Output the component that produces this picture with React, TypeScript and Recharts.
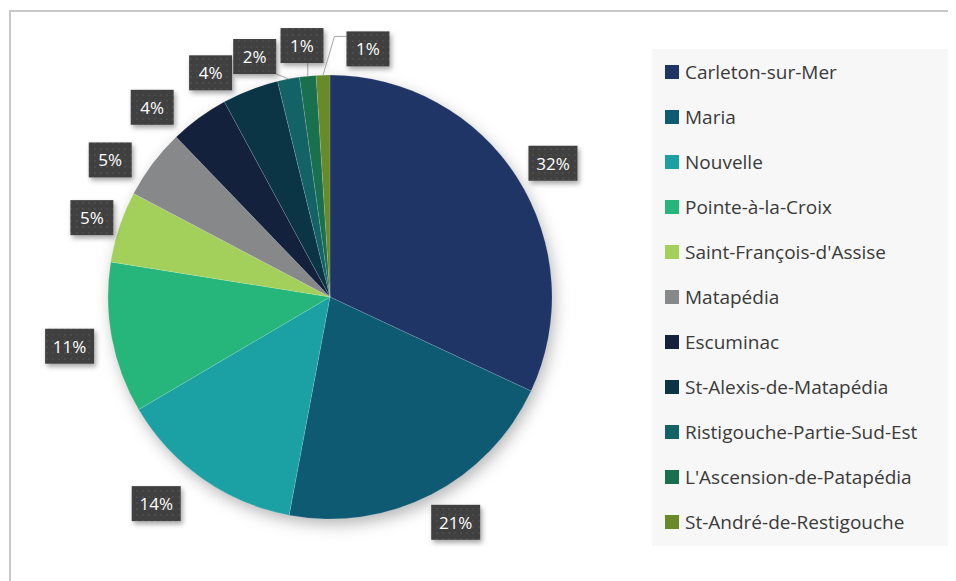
import { PieChart, Pie, Cell } from 'recharts';

const names = [
  'Carleton-sur-Mer',
  'Maria',
  'Nouvelle',
  'Pointe-à-la-Croix',
  "Saint-François-d'Assise",
  'Matapédia',
  'Escuminac',
  'St-Alexis-de-Matapédia',
  'Ristigouche-Partie-Sud-Est',
  "L'Ascension-de-Patapédia",
  'St-André-de-Restigouche',
];
const shares = [32.0, 21.0, 13.6, 11.0, 5.2, 5.1, 4.3, 4.1, 1.6, 1.2, 1.0];
const colors = [
  '#1F3566', '#0F5A73', '#1BA0A4', '#26B57B', '#A2D05A', '#878889',
  '#13213D', '#0B3445', '#136266', '#18704E', '#688A28',
];

const data = names.map((name, i) => ({ name, value: shares[i] }));
const total = shares.reduce((a, b) => a + b, 0);
const shadowData = [{ name: 'shadow', value: total }];

// label placement tweaks (angle in degrees, radius in px) to keep boxes apart
const labelNudge = [1.5, -2, 5, 0, 0, -5, -7, -7, -6.6, -0.6, 10.5];
const labelRadius = [260, 258, 270, 265, 251, 259, 260, 254, 252, 253, 251];
const withLeader = [8, 9, 10];

const FONT = '"Open Sans", Lato, sans-serif';

const renderLabel = (props: any) => {
  const { cx, cy, midAngle, outerRadius, percent, index } = props;
  const base = ((90 - midAngle) * Math.PI) / 180;
  const rad = ((90 - midAngle + labelNudge[index]) * Math.PI) / 180;
  const R = labelRadius[index];
  const lx = cx + R * Math.sin(rad);
  const ly = cy - R * Math.cos(rad);
  const text = `${Math.round(percent * 100)}%`;
  const w = text.length > 2 ? 49 : 43;
  const h = 35;
  const bx = lx - w / 2;
  const by = ly - h / 2;

  let leader = null;
  if (withLeader.includes(index)) {
    const sx = cx + outerRadius * Math.sin(base);
    const sy = cy - outerRadius * Math.cos(base);
    if (sx < bx) {
      leader = (
        <polyline
          points={`${sx},${sy} ${bx - 12},${by + 5} ${bx},${by + 5}`}
          fill="none"
          stroke="#A6A6A6"
          strokeWidth={1}
        />
      );
    } else {
      const ex = Math.min(Math.max(sx, bx), bx + w);
      const ey = Math.min(Math.max(sy, by), by + h);
      leader = <line x1={sx} y1={sy} x2={ex} y2={ey} stroke="#A6A6A6" strokeWidth={1} />;
    }
  }

  return (
    <g>
      {leader}
      <rect x={bx} y={by} width={w} height={h} fill="url(#dots)" filter="url(#boxShadow)" />
      <text
        x={lx}
        y={ly}
        textAnchor="middle"
        dominantBaseline="central"
        fill="#FFFFFF"
        fontSize={17}
        fontFamily={FONT}
      >
        {text}
      </text>
    </g>
  );
};

const App = () => {
  return (
    <div style={{ position: 'relative', width: 948, height: 573, fontFamily: FONT }}>
      <svg width={0} height={0} style={{ position: 'absolute' }}>
        <defs>
          <filter id="pieShadow" x="-30%" y="-30%" width="160%" height="160%">
            <feDropShadow dx="3" dy="6" stdDeviation="8" floodColor="#000" floodOpacity="0.3" />
          </filter>
          <filter id="boxShadow" x="-40%" y="-40%" width="180%" height="180%">
            <feDropShadow dx="2" dy="3" stdDeviation="2.5" floodColor="#000" floodOpacity="0.35" />
          </filter>
          <pattern id="dots" width="6" height="6" patternUnits="userSpaceOnUse">
            <rect width="6" height="6" fill="#404040" />
            <circle cx="3" cy="3" r="0.8" fill="#585858" />
          </pattern>
        </defs>
      </svg>
      <div
        style={{
          position: 'absolute',
          left: 1,
          top: 2,
          width: 945,
          height: 569,
          borderTop: '2px solid #C8C8C8',
          borderLeft: '2px solid #C8C8C8',
        }}
      />
      <div style={{ position: 'absolute', left: 0, top: 0 }}>
        <PieChart width={948} height={573} margin={{ top: 0, right: 0, bottom: 0, left: 0 }}>
          <Pie
            data={shadowData}
            dataKey="value"
            cx={322}
            cy={289}
            outerRadius={221}
            startAngle={90}
            endAngle={-270}
            stroke="none"
            isAnimationActive={false}
          >
            <Cell fill="#FFFFFF" filter="url(#pieShadow)" />
          </Pie>
          <Pie
            data={data}
            dataKey="value"
            nameKey="name"
            cx={322}
            cy={289}
            outerRadius={222}
            startAngle={90}
            endAngle={-270}
            stroke="#FFFFFF"
            strokeWidth={0.5}
            strokeOpacity={0.25}
            label={renderLabel}
            labelLine={false}
            isAnimationActive={false}
          >
            {data.map((d, i) => (
              <Cell key={d.name} fill={colors[i]} />
            ))}
          </Pie>
        </PieChart>
      </div>
      <div
        style={{
          position: 'absolute',
          left: 644,
          top: 41,
          width: 304,
          height: 497,
          background: '#F7F7F7',
        }}
      >
        {names.map((name, i) => (
          <div
            key={name}
            style={{
              position: 'absolute',
              left: 13,
              top: i * 45,
              height: 45,
              display: 'flex',
              alignItems: 'center',
              whiteSpace: 'nowrap',
            }}
          >
            <span
              style={{ width: 14, height: 14, background: colors[i], display: 'inline-block', marginRight: 6 }}
            />
            <span style={{ fontSize: 19, color: '#3A3A3A' }}>{name}</span>
          </div>
        ))}
      </div>
    </div>
  );
};

export default App;
